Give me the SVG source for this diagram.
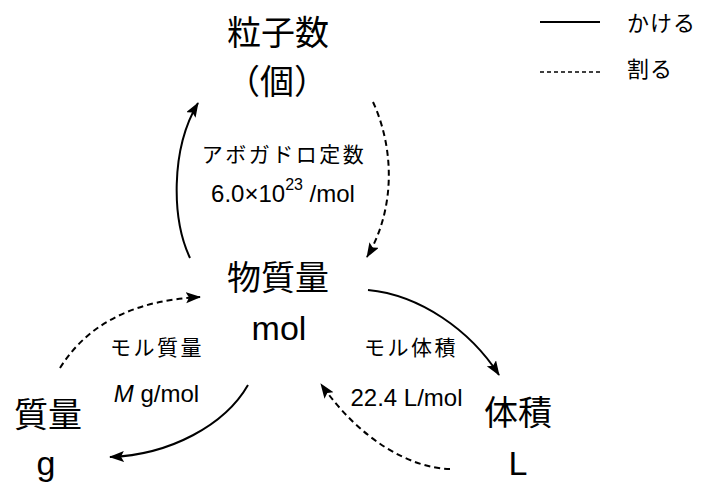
<svg xmlns="http://www.w3.org/2000/svg" width="703" height="483" viewBox="0 0 703 483">
<style>
text{font-family:"Liberation Sans","Noto Sans CJK JP",sans-serif;fill:#000}
.big{font-size:34px;text-anchor:middle}
.jl{font-size:21px;letter-spacing:2.5px;text-anchor:middle}
.ll{font-size:24px;text-anchor:middle}
.leg{font-size:22px;letter-spacing:1px}
.solid{fill:none;stroke:#000;stroke-width:2}
.dash{fill:none;stroke:#000;stroke-width:2;stroke-dasharray:6 4}
</style>
<defs>
<marker id="ah" markerUnits="userSpaceOnUse" markerWidth="16" markerHeight="12" refX="14" refY="5.5" orient="auto">
<path d="M0,0 L15,5.5 L0,11 L3,5.5 Z" fill="#000"/>
</marker>
</defs>
<rect width="703" height="483" fill="#fff"/>
<g id="connectors">
<path class="solid" d="M190,258 C172,220 170,150 198,103" marker-end="url(#ah)"/>
<path class="dash" d="M373,102 C395,150 395,210 367,257" marker-end="url(#ah)"/>
<path class="solid" d="M368,290 C420,295 470,330 499,375" marker-end="url(#ah)"/>
<path class="dash" d="M450,469 C410,468 360,440 321,384" marker-end="url(#ah)"/>
<path class="solid" d="M248,385 C225,425 170,455 110,457" marker-end="url(#ah)"/>
<path class="dash" d="M60,368 C90,320 140,300 200,297" marker-end="url(#ah)"/>
</g>
<g id="particles">
<text class="big" x="278" y="45">粒子数</text>
<text class="big" x="277" y="94">（個）</text>
</g>
<g id="amount">
<text class="big" x="278" y="290">物質量</text>
<text class="big" x="279" y="340">mol</text>
</g>
<g id="mass">
<text class="big" x="48" y="427">質量</text>
<text class="big" x="46" y="475">g</text>
</g>
<g id="volume">
<text class="big" x="518" y="425">体積</text>
<text class="big" x="518" y="475">L</text>
</g>
<g id="avogadro-label">
<text class="jl" x="284" y="162">アボガドロ定数</text>
<text class="ll" x="283" y="202">6.0×10<tspan font-size="16" dy="-12">23</tspan><tspan dy="12"> /mol</tspan></text>
</g>
<g id="molar-mass-label">
<text class="jl" x="157" y="355">モル質量</text>
<text class="ll" x="156.5" y="402"><tspan font-style="italic">M</tspan> g/mol</text>
</g>
<g id="molar-volume-label">
<text class="jl" x="411" y="355">モル体積</text>
<text class="ll" x="406.5" y="406">22.4 L/mol</text>
</g>
<g id="legend">
<line x1="540" y1="22" x2="600" y2="22" stroke="#000" stroke-width="2"/>
<text class="leg" x="627" y="31">かける</text>
<line x1="540" y1="72" x2="602" y2="72" stroke="#000" stroke-width="1.5" stroke-dasharray="4 3"/>
<text class="leg" x="627" y="77">割る</text>
</g>
</svg>
